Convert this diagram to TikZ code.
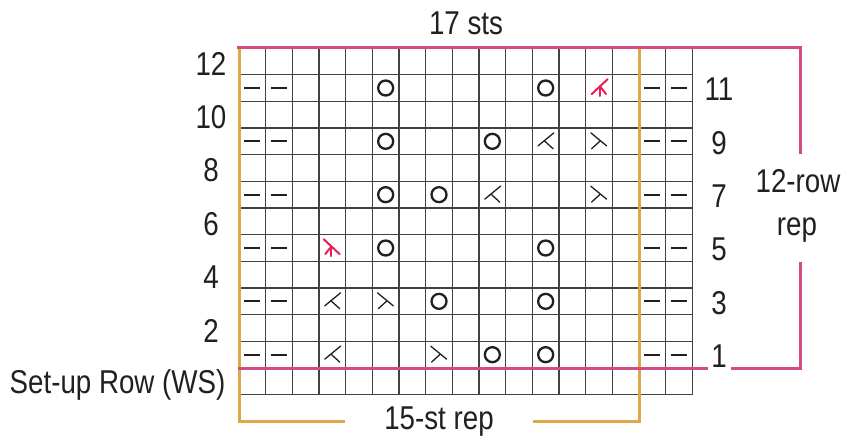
\documentclass[tikz,border=0pt]{standalone}
\usepackage{fontspec}
\setmainfont{Liberation Sans}[FakeStretch=0.84]
\definecolor{rowpink}{RGB}{208,76,132}
\definecolor{stgold}{RGB}{224,166,74}
\definecolor{symred}{RGB}{236,28,84}
\definecolor{ink}{RGB}{35,31,32}
\tikzset{
  gridline/.style={draw=ink!85, line width=1.1pt},
  symline/.style={draw=ink, line width=1.3pt, line cap=round},
  redline/.style={draw=symred, line width=2pt, line cap=round},
  repline/.style={line width=3pt},
  lbl/.style={inner sep=0pt, text=ink, font=\fontsize{33}{40}\selectfont},
  yo/.pic={\draw[draw=ink, line width=2.3pt] (0,0) circle (7.5);},
  purlst/.pic={\draw[draw=ink, line width=2pt] (-8,0) -- (8,0);},
  lefttog/.pic={\draw[symline] (8.2,-8.5) -- (-7.6,4.5); \draw[symline] (-1.2,-0.4) -- (7.4,7.4);},
  righttog/.pic={\draw[symline] (-8.2,-8.5) -- (7.6,4.5); \draw[symline] (1.2,-0.4) -- (-7.4,7.4);},
  leftdec/.pic={\draw[redline] (8.6,-8.8) -- (-7.4,6.2); \draw[redline] (1,-1.5) -- (7,6); \draw[redline] (1,-1.5) -- (1,8);},
  rightdec/.pic={\draw[redline] (-8.6,-8.8) -- (7.4,6.2); \draw[redline] (-1,-1.5) -- (-7,6); \draw[redline] (-1,-1.5) -- (-1,8);}
}
\newcommand\stitch[3]{\pic at ({239+(#1+0.5)*26.667},{48+(12-#2+0.5)*26.667}) {#3};}
\begin{document}
\begin{tikzpicture}[x=1pt,y=-1pt]
\useasboundingbox[fill=white] (0,0) rectangle (849,445);
% grid
\foreach \i in {0,...,17} \draw[gridline] ({239+\i*26.667},48) -- ({239+\i*26.667},394.7);
\foreach \j in {0,...,13} \draw[gridline] (239,{48+\j*26.667}) -- (692.3,{48+\j*26.667});
% purl edges
\foreach \r in {1,3,5,7,9,11} {
  \foreach \c in {0,1,15,16} { \stitch{\c}{\r}{purlst} }
}
% row 11
\stitch{5}{11}{yo} \stitch{11}{11}{yo} \stitch{13}{11}{leftdec}
% row 9
\stitch{5}{9}{yo} \stitch{9}{9}{yo} \stitch{11}{9}{lefttog} \stitch{13}{9}{righttog}
% row 7
\stitch{5}{7}{yo} \stitch{7}{7}{yo} \stitch{9}{7}{lefttog} \stitch{13}{7}{righttog}
% row 5
\stitch{3}{5}{rightdec} \stitch{5}{5}{yo} \stitch{11}{5}{yo}
% row 3
\stitch{3}{3}{lefttog} \stitch{5}{3}{righttog} \stitch{7}{3}{yo} \stitch{11}{3}{yo}
% row 1
\stitch{3}{1}{lefttog} \stitch{7}{1}{righttog} \stitch{9}{1}{yo} \stitch{11}{1}{yo}
% 15-st repeat bracket
\draw[repline, draw=stgold] (345,421.5) -- (239,421.5) -- (239,48);
\draw[repline, draw=stgold] (533,421.5) -- (639,421.5) -- (639,48);
% 12-row repeat bracket
\draw[repline, draw=rowpink] (237,47.5) -- (800.5,47.5) -- (800.5,154);
\draw[repline, draw=rowpink] (800.5,261.7) -- (800.5,368.3) -- (731,368.3);
\draw[repline, draw=rowpink] (237.5,368.3) -- (708,368.3);
% labels
\node[lbl, anchor=base] (sts) at (466,34) {17 sts};
\node[lbl, anchor=base] (strep) at (439,429) {15-st rep};
\node[lbl, anchor=base] (rowrepa) at (798,192) {12-row};
\node[lbl, anchor=base] (rowrepb) at (797,235) {rep};
\node[lbl, anchor=base] (setup) at (117.5,393.5) {Set-up Row (WS)};
\foreach \n in {2,4,...,12} {
  \node[lbl] (l\n) at (211,{48+(12-\n+0.5)*26.667+2.5}) {\n};
}
\foreach \n in {1,3,...,11} {
  \node[lbl] (r\n) at (719,{48+(12-\n+0.5)*26.667+1.5}) {\n};
}
\end{tikzpicture}
\end{document}
